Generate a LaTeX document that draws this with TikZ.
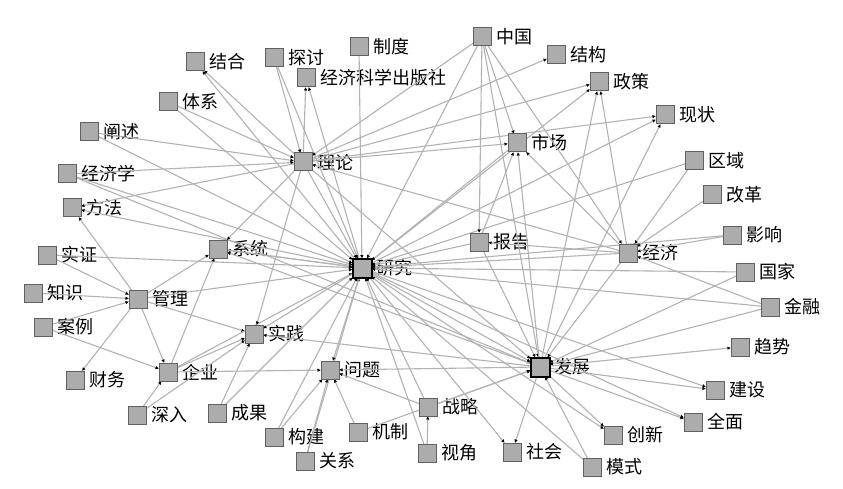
\documentclass[tikz,border=0pt]{standalone}
\usepackage{fontspec}
\setmainfont{Noto Sans CJK SC}
\usetikzlibrary{arrows.meta}

\begin{document}
\begin{tikzpicture}[x=1pt,y=-1pt,
    kw/.style={draw=gray!75!black,fill=gray!65,line width=1pt,minimum size=17pt,inner sep=0pt},
    hub/.style={kw,draw=black,line width=2pt},
    lbl/.style={font=\fontsize{18}{20}\selectfont,inner sep=0pt,xshift=5pt},
    link/.style={draw=gray!60,line width=1.1pt,-{Latex[length=3.5pt,width=3.5pt,black]}}]
    \useasboundingbox (0,0) rectangle (843,489);

    % left part
    \node[kw,label={[lbl]right:结合}] (jh) at (195,62) {};
    \node[kw,label={[lbl]right:探讨}] (tt) at (274,58) {};
    \node[kw,label={[lbl]right:制度}] (zd) at (359,47) {};
    \node[kw,label={[lbl]right:经济科学出版社}] (cbs) at (306,78) {};
    \node[kw,label={[lbl]right:体系}] (tx) at (168,102) {};
    \node[kw,label={[lbl]right:阐述}] (cs) at (89,132) {};
    \node[kw,label={[lbl]right:理论}] (ll) at (303,162) {};
    \node[kw,label={[lbl]right:经济学}] (jjx) at (67,174) {};
    \node[kw,label={[lbl]right:方法}] (ff) at (72,208) {};
    \node[kw,label={[lbl]right:系统}] (xt) at (218,249) {};
    \node[kw,label={[lbl]right:实证}] (sz) at (47,255) {};
    \node[kw,label={[lbl]right:知识}] (zs) at (33,293) {};
    \node[kw,label={[lbl]right:管理}] (gl) at (138,299) {};
    \node[kw,label={[lbl]right:案例}] (al) at (43,327) {};
    \node[kw,label={[lbl]right:实践}] (sj) at (254,334) {};
    \node[kw,label={[lbl]right:财务}] (cw) at (75,380) {};
    \node[kw,label={[lbl]right:企业}] (qy) at (168,372) {};
    \node[kw,label={[lbl]right:问题}] (wt) at (330,370) {};
    \node[kw,label={[lbl]right:深入}] (sr) at (137,415) {};
    \node[kw,label={[lbl]right:成果}] (cg) at (217,413) {};
    \node[kw,label={[lbl]right:构建}] (gj) at (274,437) {};
    \node[kw,label={[lbl]right:机制}] (jz) at (358,432) {};
    \node[kw,label={[lbl]right:关系}] (gx) at (305,461) {};
    \node[hub,label={[lbl]right:研究}] (yj) at (362,268) {};

    % right part
    \node[kw,label={[lbl]right:中国}] (zg) at (482,37) {};
    \node[kw,label={[lbl]right:结构}] (jg) at (556,55) {};
    \node[kw,label={[lbl]right:政策}] (zc) at (599,82) {};
    \node[kw,label={[lbl]right:现状}] (xz) at (665,115) {};
    \node[kw,label={[lbl]right:市场}] (sc) at (517,143) {};
    \node[kw,label={[lbl]right:区域}] (qu) at (694,161) {};
    \node[kw,label={[lbl]right:改革}] (gg) at (712,195) {};
    \node[kw,label={[lbl]right:影响}] (yx) at (732,235) {};
    \node[kw,label={[lbl]right:报告}] (bg) at (479,242) {};
    \node[kw,label={[lbl]right:经济}] (jj) at (628,253) {};
    \node[kw,label={[lbl]right:国家}] (gjia) at (745,272) {};
    \node[kw,label={[lbl]right:金融}] (jr) at (770,307) {};
    \node[kw,label={[lbl]right:趋势}] (qs) at (740,347) {};
    \node[hub,label={[lbl]right:发展}] (fz) at (540,367) {};
    \node[kw,label={[lbl]right:建设}] (js) at (715,390) {};
    \node[kw,label={[lbl]right:全面}] (qm) at (693,422) {};
    \node[kw,label={[lbl]right:战略}] (zl) at (428,407) {};
    \node[kw,label={[lbl]right:创新}] (cx) at (613,435) {};
    \node[kw,label={[lbl]right:视角}] (sja) at (427,453) {};
    \node[kw,label={[lbl]right:社会}] (sh) at (512,452) {};
    \node[kw,label={[lbl]right:模式}] (ms) at (592,467) {};

    % links
    \foreach \a/\b in {ll/jh,yj/jh,tt/ll,tt/yj,zd/yj,ll/cbs,yj/cbs,tx/ll,tx/yj,cs/ll,cs/yj,
        jjx/ll,jjx/yj,jjx/fz,ll/ff,yj/ff,gl/ff,sz/gl,sz/yj,zs/gl,al/gl,al/qy,gl/cw,
        gl/yj,gl/qy,gl/sj,gl/xt,qy/yj,qy/wt,qy/xt,qy/sj,sr/qy,sr/sj,cg/sj,cg/yj,
        gj/wt,gj/yj,gx/wt,gx/yj,jz/wt,jz/fz,zl/yj,zl/wt,zl/fz,sja/yj,sja/zl,
        fz/sh,yj/sh,ms/fz,ms/yj,fz/cx,yj/cx,fz/qm,yj/qm,fz/js,yj/js,fz/qs,
        jr/fz,jr/yj,jr/jj,gjia/fz,gjia/yj,yx/jj,yx/yj,gg/jj,qu/jj,qu/yj,
        yj/xz,fz/xz,ll/xz,yj/zc,fz/zc,jj/zc,ll/zc,ll/jg,
        zg/yj,zg/ll,zg/bg,zg/sc,zg/fz,zg/jj,sc/yj,ll/sc,fz/sc,jj/sc,bg/sc,
        bg/yj,bg/fz,jj/bg,jj/yj,jj/fz,jj/ll,ll/yj,ll/fz,ll/xt,ll/sj,
        yj/fz,yj/wt,yj/sj,yj/xt,fz/wt,fz/sj,fz/xt,xt/yj}
      \draw[link] (\a) -- (\b);

    % boxes again on top of links
    \foreach \n in {jh,tt,zd,cbs,tx,cs,ll,jjx,ff,xt,sz,zs,gl,al,sj,cw,qy,wt,sr,cg,gj,jz,gx,
        zg,jg,zc,xz,sc,qu,gg,yx,bg,jj,gjia,jr,qs,js,qm,zl,cx,sja,sh,ms}
      \fill[gray!65,draw=gray!75!black,line width=1pt] (\n.south west) rectangle (\n.north east);
    \foreach \n in {yj,fz}
      \fill[gray!65,draw=black,line width=2pt] (\n.south west) rectangle (\n.north east);
\end{tikzpicture}
\end{document}
